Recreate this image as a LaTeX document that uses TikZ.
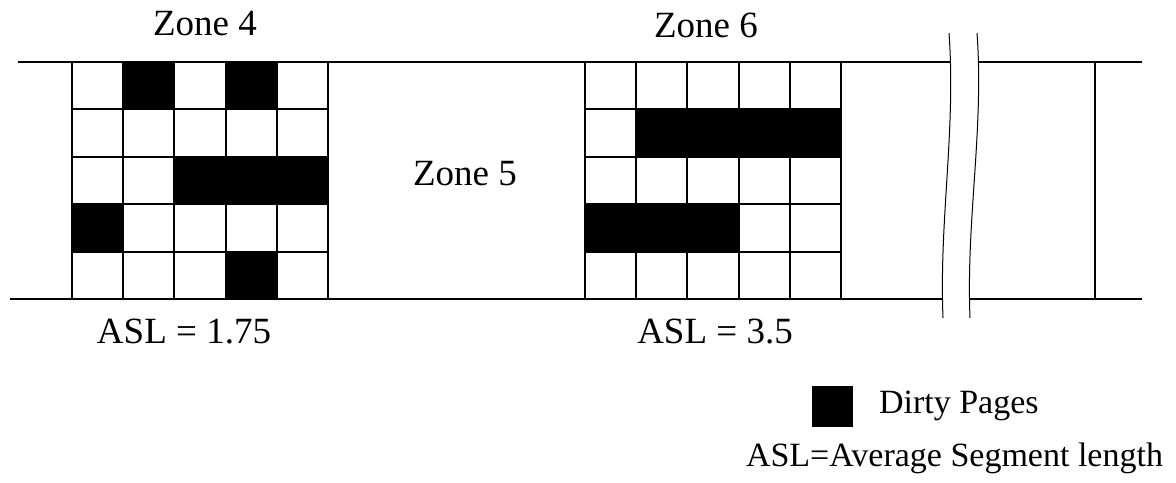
\documentclass[tikz,border=0pt]{standalone}
\usepackage{fontspec}
\setmainfont{Liberation Serif}
\begin{document}
\begin{tikzpicture}[x=0.5pt,y=-0.5pt,line width=1pt,
  zone/.style={font=\fontsize{18.5}{22}\selectfont,anchor=base,inner sep=0pt},
  legend/.style={font=\fontsize{17}{20}\selectfont,anchor=base west,inner sep=0pt}]
\useasboundingbox (0,0) rectangle (1176,482);
\pgfmathsetmacro{\W}{51.2}
\pgfmathsetmacro{\H}{47.4}
% edges of the zone strip
\draw (18,62)--(950,62) (978,62)--(1142,62);
\draw (10,299)--(942,299) (969,299)--(1142,299);
% break marks
\draw[line width=0.5pt] (949,33) .. controls (956,130) and (939,220) .. (943,318);
\draw[line width=0.5pt] (977,33) .. controls (984,130) and (966,220) .. (970,318);
\draw (1095,62)--(1095,299);
% zone 4
\foreach \c/\r in {1/0,3/0,2/2,3/2,4/2,0/3,3/4}
  \fill (72+\c*\W,62+\r*\H) rectangle ++(\W,\H);
\foreach \i in {0,...,5}{
  \draw (72+\i*\W,62)--++(0,5*\H);
  \draw (72,62+\i*\H)--++(5*\W,0);}
% zone 6
\foreach \c/\r in {1/1,2/1,3/1,4/1,0/3,1/3,2/3}
  \fill (585+\c*\W,62+\r*\H) rectangle ++(\W,\H);
\foreach \i in {0,...,5}{
  \draw (585+\i*\W,62)--++(0,5*\H);
  \draw (585,62+\i*\H)--++(5*\W,0);}
\node[zone] (z4) at (205,35) {Zone 4};
\node[zone] (z5) at (465,185) {Zone 5};
\node[zone] (z6) at (706,37) {Zone 6};
\node[zone] (asl4) at (184,343) {ASL = 1.75};
\node[zone] (asl6) at (715,343) {ASL = 3.5};
% legend
\fill (812,386) rectangle (853,427);
\node[legend] (dirty) at (878,413) {Dirty Pages};
\node[legend] (key) at (745,466) {ASL=Average Segment length};
\end{tikzpicture}
\end{document}
